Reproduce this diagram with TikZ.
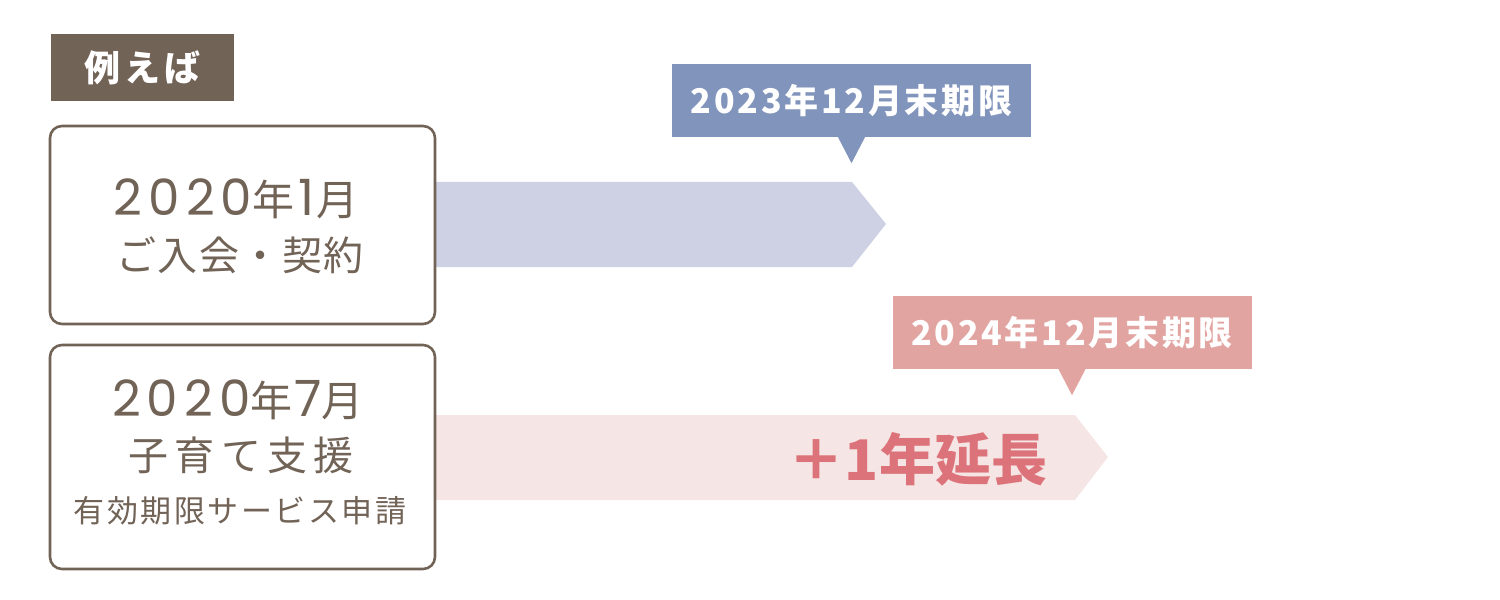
\documentclass[tikz,border=0pt]{standalone}
\usepackage{fontspec}
\setmainfont{Noto Sans CJK JP}
\newfontfamily\pop{Poppins}[Numbers=Monospaced, LetterSpace=12]
\usetikzlibrary{calc}
\definecolor{tagbrown}{HTML}{726357}
\definecolor{calblue}{HTML}{8194BB}
\definecolor{arrblue}{HTML}{CDD1E3}
\definecolor{calpink}{HTML}{E2A4A1}
\definecolor{arrpink}{HTML}{F5E6E5}
\definecolor{extred}{HTML}{DD737A}
\newcommand{\fs}[1]{\fontsize{#1bp}{#1bp}\selectfont}
\newcommand{\dg}[1]{{\pop\fs{50}#1}}
\begin{document}
\begin{tikzpicture}[x=1bp,y=-1bp,
  card/.style={draw=tagbrown, line width=2.6bp, rounded corners=12bp, fill=white, inner sep=0pt, minimum width=385bp},
  cardtext/.style={text=tagbrown, inner sep=0pt},
  calloutbox/.style={inner sep=0pt, minimum width=359bp, minimum height=73bp, text=white, font=\bfseries\fs{34}\addfontfeatures{LetterSpace=8}},
  tagbox/.style={fill=tagbrown, inner sep=0pt, minimum width=183bp, minimum height=67bp, text=white, font=\bfseries\fs{36}\addfontfeatures{LetterSpace=12}}
]
\useasboundingbox (0,0) rectangle (1500,600);

% arrows
\fill[arrblue] (435,182) -- (852,182) -- (886,224) -- (852,267) -- (435,267) -- cycle;
\fill[arrpink] (435,415) -- (1075,415) -- (1108,457) -- (1075,500) -- (435,500) -- cycle;

% tag
\node[tagbox] (tag) at (142.5,67.5) {例えば};

% cards
\node[card, minimum height=198bp] (card1) at (242.5,225) {};
\node[card, minimum height=224bp] (card2) at (242.5,457) {};

\node[cardtext] (c1l1) at (236,199) {\fs{42}\dg{2020}年\kern4bp\dg{1}\kern2bp月};
\node[cardtext] (c1l2) at (240,255) {\fs{40}\addfontfeatures{LetterSpace=4}ご入会・契約};

\node[cardtext] (c2l1) at (238,400) {\fs{42}\dg{2020}年\kern2bp\dg{7}月};
\node[cardtext] (c2l2) at (241,455) {\fs{40}\addfontfeatures{LetterSpace=16}子育て支援};
\node[cardtext] (c2l3) at (240,511) {\fs{31}\addfontfeatures{LetterSpace=8}有効期限サービス申請};

% callouts
\node[calloutbox, fill=calblue] (co1) at (851.5,100.5) {2023年12月末期限};
\fill[calblue] ($(co1.south)+(-14,-1)$) -- ($(co1.south)+(14,-1)$) -- ($(co1.south)+(0,26)$) -- cycle;

\node[calloutbox, fill=calpink] (co2) at (1072,332.5) {2024年12月末期限};
\fill[calpink] ($(co2.south)+(-14,-1)$) -- ($(co2.south)+(14,-1)$) -- ($(co2.south)+(0,26)$) -- cycle;

% extension text
\node[text=extred, inner sep=0pt, font=\bfseries\fs{56}] (ext) at (918,459) {＋1年延長};
\end{tikzpicture}
\end{document}
